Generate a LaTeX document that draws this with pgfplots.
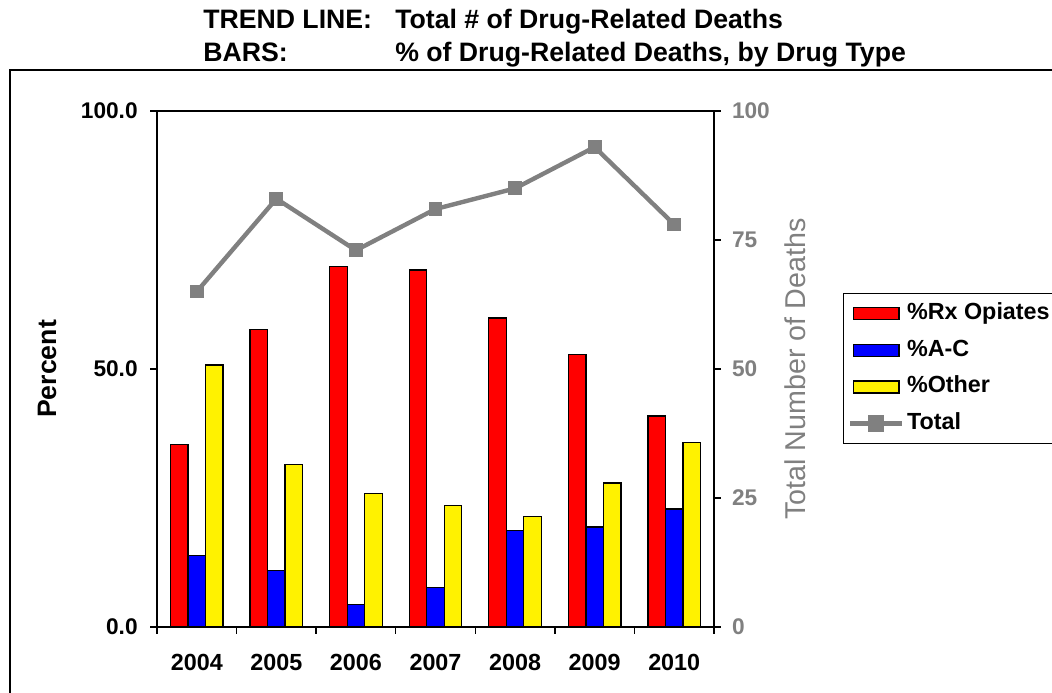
\documentclass[border=0pt]{standalone}
\usepackage{pgfplots}
\pgfplotsset{compat=1.18}
\usepackage{fontspec}
\setmainfont{Liberation Sans}
\definecolor{xlgray}{RGB}{128,128,128}
\begin{document}
\begin{tikzpicture}
\useasboundingbox (0,0) rectangle (789pt,519pt);
\clip (0,0) rectangle (789pt,519pt);
% outer chart border
\draw[line width=1pt] (7.5pt,-10pt) rectangle (800pt,466.5pt);
% title
\node[anchor=base west, inner sep=0, font=\fontsize{20}{24}\selectfont\bfseries] at (152.25pt,497.25pt) {TREND LINE:};
\node[anchor=base west, inner sep=0, font=\fontsize{20}{24}\selectfont\bfseries] at (296.25pt,497.25pt) {Total \# of Drug-Related Deaths};
\node[anchor=base west, inner sep=0, font=\fontsize{20}{24}\selectfont\bfseries] at (152.25pt,472.5pt) {BARS:};
\node[anchor=base west, inner sep=0, font=\fontsize{20}{24}\selectfont\bfseries] at (296.25pt,472.5pt) {\% of Drug-Related Deaths, by Drug Type};

\begin{axis}[
  at={(117.75pt,48.75pt)}, anchor=south west,
  width=417.75pt, height=387pt, scale only axis,
  xmin=-0.5, xmax=6.5, ymin=0, ymax=100,
  ybar=0pt, bar width=13.125pt,
  axis line style={line width=2pt},
  tick align=outside, major tick length=5pt,
  tick style={line width=1pt, black},
  xtick pos=bottom, ytick pos=left,
  xtick={-0.5,0.5,1.5,2.5,3.5,4.5,5.5,6.5},
  xticklabels={},
  extra x ticks={0,1,2,3,4,5,6},
  extra x tick labels={2004,2005,2006,2007,2008,2009,2010},
  extra x tick style={tick style={draw=none}},
  xticklabel style={font=\fontsize{17.5}{20}\selectfont\bfseries, yshift=-12pt},
  ytick={0,50,100},
  yticklabels={0.0,50.0,100.0},
  yticklabel style={font=\fontsize{17}{20}\selectfont\bfseries, xshift=-6pt},
  ylabel={Percent},
  ylabel style={font=\fontsize{20}{24}\selectfont\bfseries, at={(axis description cs:-0.1975,0.5)}, anchor=center},
]
\addplot[fill=red, draw=black, line width=1pt] coordinates {(0,35.4) (1,57.7) (2,69.8) (3,69.2) (4,59.9) (5,52.8) (6,40.9)};
\addplot[fill=blue, draw=black, line width=1pt] coordinates {(0,13.8) (1,10.9) (2,4.3) (3,7.6) (4,18.7) (5,19.4) (6,22.9)};
\addplot[fill=yellow, draw=black, line width=1pt] coordinates {(0,50.8) (1,31.5) (2,25.9) (3,23.6) (4,21.4) (5,27.9) (6,35.7)};
\end{axis}

\begin{axis}[
  at={(117.75pt,48.75pt)}, anchor=south west,
  width=417.75pt, height=387pt, scale only axis,
  xmin=-0.5, xmax=6.5, ymin=0, ymax=100,
  axis x line=none, axis y line*=right,
  y axis line style={line width=2pt, -},
  tick align=outside, major tick length=5pt,
  tick style={line width=1pt, black},
  ytick={0,25,50,75,100},
  yticklabel style={font=\fontsize{17}{20}\selectfont\bfseries, text=xlgray, xshift=5pt},
  /pgf/number format/assume math mode=true,
  ylabel={Total Number of Deaths},
  ylabel style={font=\fontsize{21.5}{25}\selectfont, text=xlgray, at={(axis description cs:1.1454,0.5)}, anchor=center, rotate=0},
  legend style={at={(1.2316,0.6473)}, anchor=north west, draw=black, line width=1pt, fill=white,
    font=\fontsize{17.5}{20}\selectfont\bfseries, inner xsep=3.25pt, inner ysep=6.5pt, row sep=10.5pt,
    nodes={inner xsep=2pt, inner ysep=0pt, text height=13pt, text depth=4pt}},
  legend cell align=left,
]
\addlegendimage{legend image code/.code={\draw[fill=red, draw=black, line width=1pt] (0pt,-4.5pt) rectangle (34pt,4.5pt);}}
\addlegendentry{\%Rx Opiates}
\addlegendimage{legend image code/.code={\draw[fill=blue, draw=black, line width=1pt] (0pt,-4.5pt) rectangle (34pt,4.5pt);}}
\addlegendentry{\%A-C}
\addlegendimage{legend image code/.code={\draw[fill=yellow, draw=black, line width=1pt] (0pt,-4.5pt) rectangle (34pt,4.5pt);}}
\addlegendentry{\%Other}
\addplot[color=xlgray, line width=3.3pt, mark=square*, mark size=4.8pt, mark options={solid, line width=0pt},
  legend image code/.code={\draw[xlgray, line width=3.3pt] (-2.5pt,0pt) -- (36.5pt,0pt); \fill[xlgray] (12.5pt,-4.5pt) rectangle (21.5pt,4.5pt);}]
  coordinates {(0,65) (1,83) (2,73) (3,81) (4,85) (5,93) (6,78)};
\addlegendentry{Total}
\end{axis}
\end{tikzpicture}
\end{document}
